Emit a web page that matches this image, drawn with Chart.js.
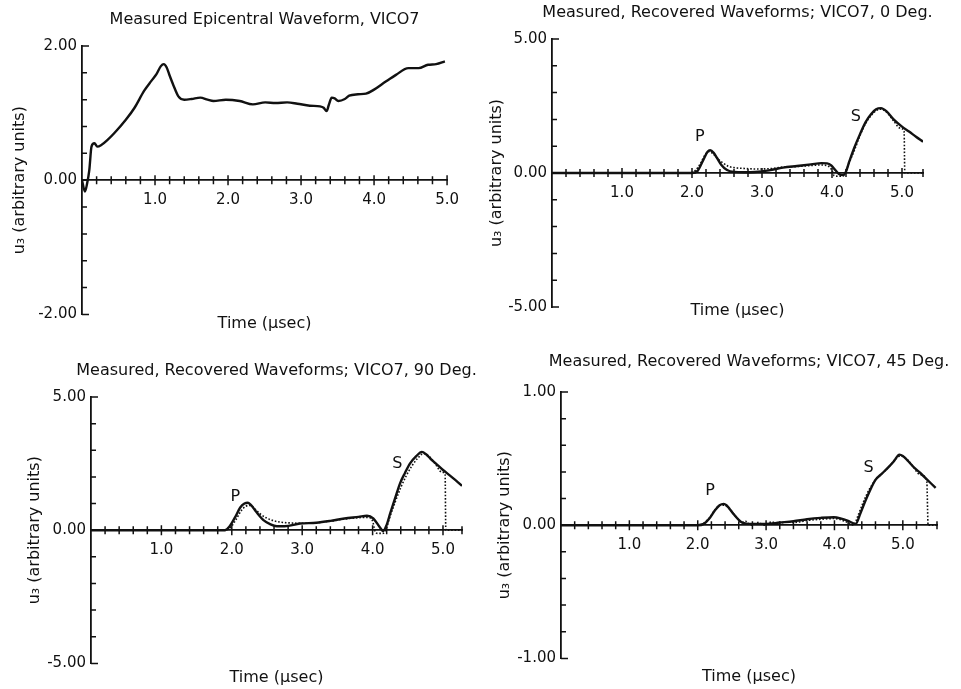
<!DOCTYPE html>
<html>
<head>
<meta charset="utf-8">
<script src="https://cdn.jsdelivr.net/npm/chart.js@4.4.1/dist/chart.umd.min.js"></script>
<style>
    html, body { margin: 0; padding: 0; background: #fff; overflow: hidden; }
    body { width: 961px; height: 689px; position: relative; }
    canvas { position: absolute; }
</style>
</head>
<body>
<canvas id="epi"></canvas>
<canvas id="deg0"></canvas>
<canvas id="deg90"></canvas>
<canvas id="deg45"></canvas>
<script>
// Measured epicentral waveform
const epiTime = [0, 0.04, 0.07, 0.10, 0.13, 0.17, 0.21, 0.26, 0.35, 0.45, 0.6, 0.72, 0.85, 0.95, 1.02, 1.08, 1.12, 1.16, 1.20, 1.25,
    1.32, 1.40, 1.50, 1.62, 1.72, 1.80, 1.97, 2.16, 2.34, 2.51, 2.65, 2.81, 2.95, 3.12, 3.26, 3.31, 3.35, 3.38, 3.42, 3.46,
    3.51, 3.60, 3.66, 3.78, 3.89, 4.0, 4.16, 4.30, 4.47, 4.61, 4.74, 4.85, 4.97];
const epiU3 = [0, -0.17, -0.05, 0.15, 0.50, 0.55, 0.50, 0.52, 0.60, 0.71, 0.90, 1.08, 1.33, 1.48, 1.58, 1.70, 1.73, 1.68, 1.56, 1.42,
    1.25, 1.20, 1.21, 1.23, 1.20, 1.18, 1.20, 1.18, 1.13, 1.16, 1.15, 1.16, 1.14, 1.11, 1.10, 1.08, 1.03, 1.12, 1.23, 1.22,
    1.18, 1.21, 1.26, 1.28, 1.29, 1.35, 1.47, 1.57, 1.67, 1.67, 1.72, 1.73, 1.77];

// 0 deg: measured (solid) and recovered (dotted)
const deg0Time = [0, 2.0, 2.08, 2.16, 2.22, 2.26, 2.31, 2.36, 2.42, 2.5, 2.6, 2.75, 2.9, 3.1, 3.3, 3.5, 3.7, 3.85, 3.93, 3.99,
    4.05, 4.1, 4.15, 4.19, 4.25, 4.32, 4.4, 4.48, 4.56, 4.63, 4.7, 4.78, 4.88, 5.0, 5.1, 5.2, 5.3];
const deg0Meas = [0, 0, 0.08, 0.48, 0.78, 0.85, 0.75, 0.55, 0.3, 0.11, 0.04, 0.03, 0.04, 0.1, 0.2, 0.26, 0.32, 0.37, 0.36, 0.28,
    0.1, -0.04, -0.08, 0, 0.45, 0.95, 1.45, 1.9, 2.2, 2.38, 2.42, 2.3, 2.0, 1.73, 1.55, 1.35, 1.17];
const deg0RecTime = [0, 1.95, 2.05, 2.12, 2.18, 2.24, 2.3, 2.36, 2.44, 2.52, 2.6, 2.75, 2.9, 3.1, 3.3, 3.5, 3.7, 3.85, 3.95, 4.0,
    4.03, 4.08, 4.14, 4.18, 4.24, 4.32, 4.4, 4.48, 4.56, 4.63, 4.7, 4.78, 4.88, 4.97, 5.03, 5.04, 5.15, 5.3];
const deg0Rec = [0, 0, 0.1, 0.35, 0.65, 0.8, 0.72, 0.55, 0.38, 0.25, 0.2, 0.17, 0.15, 0.16, 0.22, 0.24, 0.28, 0.3, 0.25, 0.1,
    -0.1, -0.12, -0.12, -0.05, 0.35, 0.85, 1.4, 1.85, 2.15, 2.33, 2.38, 2.27, 1.95, 1.68, 1.55, 0, 0, 0];

// 90 deg
const deg90Time = [0, 1.9, 1.97, 2.05, 2.12, 2.18, 2.23, 2.28, 2.35, 2.45, 2.55, 2.64, 2.75, 2.97, 3.2, 3.4, 3.6, 3.8, 3.92, 4.01,
    4.1, 4.15, 4.2, 4.25, 4.32, 4.39, 4.46, 4.53, 4.62, 4.70, 4.76, 4.82, 4.9, 5.0, 5.1, 5.27];
const deg90Meas = [0, 0, 0.15, 0.5, 0.85, 1.0, 1.03, 0.92, 0.68, 0.38, 0.22, 0.15, 0.15, 0.25, 0.28, 0.35, 0.44, 0.5, 0.54, 0.44,
    0.12, -0.03, 0.2, 0.63, 1.2, 1.76, 2.15, 2.5, 2.78, 2.94, 2.85, 2.69, 2.5, 2.26, 2.05, 1.67];
const deg90RecTime = [0, 1.9, 1.98, 2.06, 2.13, 2.2, 2.26, 2.32, 2.4, 2.5, 2.6, 2.7, 2.85, 3.0, 3.2, 3.4, 3.6, 3.8, 3.93, 4.0,
    4.03, 4.07, 4.13, 4.18, 4.24, 4.32, 4.4, 4.48, 4.56, 4.64, 4.72, 4.8, 4.9, 4.98, 5.03, 5.04, 5.15, 5.27];
const deg90Rec = [0, 0, 0.1, 0.4, 0.72, 0.9, 0.93, 0.82, 0.62, 0.45, 0.35, 0.3, 0.27, 0.26, 0.28, 0.34, 0.42, 0.47, 0.48, 0.35,
    0.0, -0.12, -0.12, -0.05, 0.45, 1.05, 1.6, 2.05, 2.42, 2.7, 2.87, 2.78, 2.45, 2.18, 2.1, 0, 0, 0];

// 45 deg
const deg45Time = [0, 2.0, 2.09, 2.17, 2.25, 2.32, 2.38, 2.42, 2.47, 2.53, 2.6, 2.65, 2.8, 3.0, 3.2, 3.4, 3.6, 3.8, 3.99, 4.1,
    4.19, 4.31, 4.38, 4.45, 4.51, 4.6, 4.7, 4.78, 4.87, 4.95, 5.0, 5.08, 5.17, 5.26, 5.34, 5.48];
const deg45Meas = [0, 0, 0.01, 0.05, 0.11, 0.15, 0.16, 0.15, 0.12, 0.08, 0.04, 0.02, 0.01, 0.01, 0.02, 0.03, 0.045, 0.055, 0.06, 0.05,
    0.035, 0.01, 0.09, 0.18, 0.25, 0.34, 0.39, 0.43, 0.48, 0.53, 0.52, 0.48, 0.43, 0.39, 0.35, 0.28];
const deg45RecTime = [0, 2.0, 2.1, 2.18, 2.26, 2.33, 2.39, 2.45, 2.52, 2.58, 2.64, 2.7, 2.78, 2.88, 2.98, 3.08, 3.18, 3.28, 3.4, 3.6,
    3.8, 4.0, 4.15, 4.28, 4.35, 4.42, 4.5, 4.6, 4.7, 4.8, 4.9, 4.97, 5.05, 5.15, 5.25, 5.35, 5.37, 5.5];
const deg45Rec = [0, 0, 0.02, 0.06, 0.12, 0.15, 0.15, 0.13, 0.09, 0.05, 0.02, 0.03, 0.0, 0.02, 0.0, 0.025, 0.005, 0.025, 0.02, 0.035,
    0.045, 0.05, 0.03, 0.0, 0.08, 0.17, 0.26, 0.34, 0.39, 0.44, 0.5, 0.52, 0.5, 0.44, 0.38, 0.34, 0, 0];

// P / S wave labels: [text, time, u3]
const deg0Marks = [['P', 2.11, 1.34], ['S', 4.34, 2.09]];
const deg90Marks = [['P', 2.05, 1.24], ['S', 4.35, 2.48]];
const deg45Marks = [['P', 2.18, 0.26], ['S', 4.5, 0.43]];

const AXIS_W = 80;
const RIGHT_PAD = 20;
const INK = '#111';
const FONT = "'DejaVu Sans', sans-serif";

Chart.defaults.font.family = FONT;
Chart.defaults.color = INK;

function toPoints(xs, ys) {
    return xs.map((x, i) => ({ x: x, y: ys[i] }));
}

function isWhole(v) {
    return Math.abs(v - Math.round(v)) < 1e-6;
}

// crossing ticks on the zero line, inward ticks on the u3 axis
const axisMarks = {
    id: 'axisMarks',
    afterDraw(chart) {
        const { ctx, chartArea, scales: { x, y } } = chart;
        const y0 = y.getPixelForValue(0);
        ctx.save();
        ctx.strokeStyle = INK;
        ctx.lineWidth = 1.5;
        ctx.beginPath();
        x.ticks.forEach(t => {
            if (t.value <= x.min + 1e-6) return;
            const px = x.getPixelForValue(t.value);
            const h = isWhole(t.value) ? 5 : 4;
            ctx.moveTo(px, y0 - h);
            ctx.lineTo(px, y0 + h);
        });
        y.ticks.forEach(t => {
            const py = y.getPixelForValue(t.value);
            const len = (t.value === y.min || t.value === y.max) ? 7 : 5;
            ctx.moveTo(chartArea.left, py);
            ctx.lineTo(chartArea.left + len, py);
        });
        ctx.stroke();
        ctx.restore();
    }
};

function panelTitle(text, y) {
    return {
        id: 'panelTitle',
        afterDraw(chart) {
            const { ctx, chartArea } = chart;
            ctx.save();
            ctx.font = '16px ' + FONT;
            ctx.fillStyle = INK;
            ctx.textAlign = 'center';
            ctx.textBaseline = 'middle';
            ctx.fillText(text, (chartArea.left + chartArea.right) / 2, y);
            ctx.restore();
        }
    };
}

function waveMarks(marks) {
    return {
        id: 'waveMarks',
        afterDatasetsDraw(chart) {
            const { ctx, scales: { x, y } } = chart;
            ctx.save();
            ctx.font = '16px ' + FONT;
            ctx.fillStyle = INK;
            ctx.textAlign = 'center';
            ctx.textBaseline = 'middle';
            marks.forEach(m => ctx.fillText(m[0], x.getPixelForValue(m[1]), y.getPixelForValue(m[2])));
            ctx.restore();
        }
    };
}

function makePanel(id, box, cfg) {
    const canvas = document.getElementById(id);
    const canvasLeft = box.left - AXIS_W;
    const canvasTop = box.titleY - 14;
    const bottomH = box.xTitleY - box.bottom + 9.6;
    canvas.width = box.right - box.left + AXIS_W + RIGHT_PAD;
    canvas.height = Math.round(box.bottom - canvasTop + bottomH);
    canvas.style.left = canvasLeft + 'px';
    canvas.style.top = canvasTop + 'px';

    const datasets = [{
        data: toPoints(cfg.time, cfg.meas),
        borderColor: INK,
        borderWidth: 2.4,
        pointRadius: 0,
        cubicInterpolationMode: 'monotone'
    }];
    if (cfg.rec) {
        datasets.push({
            data: toPoints(cfg.recTime, cfg.rec),
            borderColor: INK,
            borderWidth: 1.6,
            borderDash: [1.6, 1.8],
            pointRadius: 0,
            cubicInterpolationMode: 'monotone'
        });
    }

    const plugins = [axisMarks, panelTitle(cfg.title, box.titleY - canvasTop)];
    if (cfg.marks) plugins.push(waveMarks(cfg.marks));

    new Chart(canvas, {
        type: 'line',
        data: { datasets: datasets },
        plugins: plugins,
        options: {
            responsive: false,
            animation: false,
            layout: { padding: { top: box.top - canvasTop, left: 0, right: RIGHT_PAD, bottom: 0 } },
            plugins: {
                legend: { display: false },
                tooltip: { enabled: false },
                title: { display: false }
            },
            scales: {
                x: {
                    type: 'linear',
                    position: { y: 0 },
                    min: 0,
                    max: cfg.xMax,
                    grid: { display: false, drawTicks: false },
                    border: { display: true, color: INK, width: 1.8 },
                    ticks: {
                        stepSize: 0.2,
                        autoSkip: false,
                        maxRotation: 0,
                        padding: 11,
                        font: { size: 15 },
                        callback: v => (isWhole(v) && v > 0.5) ? v.toFixed(1) : ''
                    }
                },
                x2: {
                    type: 'linear',
                    position: 'bottom',
                    min: 0,
                    max: cfg.xMax,
                    grid: { display: false, drawTicks: false },
                    border: { display: false },
                    ticks: { display: false },
                    title: { display: true, text: 'Time (μsec)', font: { size: 16 }, padding: 0 },
                    afterFit: s => { s.height = bottomH; }
                },
                y: {
                    type: 'linear',
                    position: 'left',
                    min: -cfg.yMax,
                    max: cfg.yMax,
                    grid: { display: false, drawTicks: false },
                    border: { display: true, color: INK, width: 1.8 },
                    ticks: {
                        stepSize: cfg.yStep,
                        autoSkip: false,
                        padding: 5,
                        font: { size: 15 },
                        callback: v => (Math.abs(v) < 1e-9 || Math.abs(Math.abs(v) - cfg.yMax) < 1e-9) ? v.toFixed(2) : ''
                    },
                    title: {
                        display: true,
                        text: 'u₃ (arbitrary units)',
                        font: { size: 16 },
                        padding: { top: box.yTitleX - canvasLeft - 9.6, bottom: 0 }
                    },
                    afterFit: s => { s.width = AXIS_W; }
                }
            }
        }
    });
}

makePanel('epi', { left: 82, top: 46, right: 450, bottom: 314, titleY: 20, xTitleY: 323, yTitleX: 20 }, {
    title: 'Measured Epicentral Waveform, VICO7',
    time: epiTime, meas: epiU3,
    xMax: 5.0, yMax: 2, yStep: 0.4
});

makePanel('deg0', { left: 552, top: 39, right: 923, bottom: 307, titleY: 13, xTitleY: 311, yTitleX: 497 }, {
    title: 'Measured, Recovered Waveforms; VICO7, 0 Deg.',
    time: deg0Time, meas: deg0Meas, recTime: deg0RecTime, rec: deg0Rec,
    marks: deg0Marks,
    xMax: 5.3, yMax: 5, yStep: 1
});

makePanel('deg90', { left: 91, top: 397, right: 462, bottom: 663, titleY: 371, xTitleY: 677, yTitleX: 35 }, {
    title: 'Measured, Recovered Waveforms; VICO7, 90 Deg.',
    time: deg90Time, meas: deg90Meas, recTime: deg90RecTime, rec: deg90Rec,
    marks: deg90Marks,
    xMax: 5.27, yMax: 5, yStep: 1
});

makePanel('deg45', { left: 561, top: 392, right: 937, bottom: 658, titleY: 362, xTitleY: 676, yTitleX: 505 }, {
    title: 'Measured, Recovered Waveforms; VICO7, 45 Deg.',
    time: deg45Time, meas: deg45Meas, recTime: deg45RecTime, rec: deg45Rec,
    marks: deg45Marks,
    xMax: 5.5, yMax: 1, yStep: 0.2
});
</script>
</body>
</html>
